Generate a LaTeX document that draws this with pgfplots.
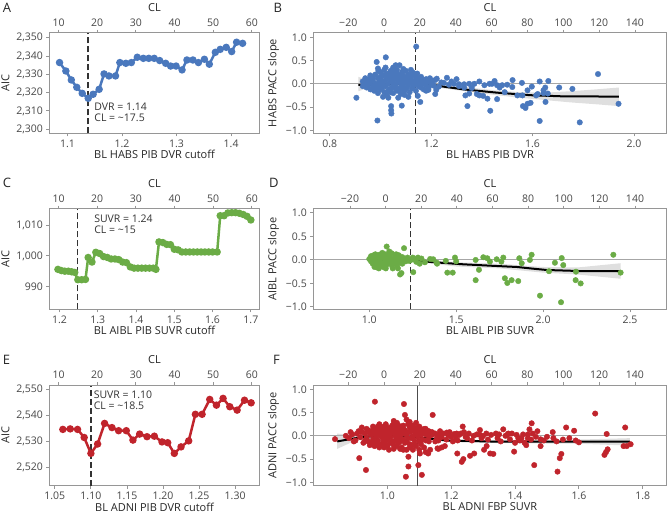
\documentclass[border=0pt]{standalone}
\usepackage{fontspec}
\setmainfont{Open Sans}
\usepackage{pgfplots}
\pgfplotsset{compat=1.18}
\definecolor{cblue}{RGB}{74,120,189}
\definecolor{cgreen}{RGB}{107,172,70}
\definecolor{cred}{RGB}{192,36,44}
\definecolor{framec}{RGB}{150,150,150}
\tikzset{ann/.style={anchor=west, inner sep=0pt, font=\fontsize{10.5}{12}\selectfont, text=black!80}}
\pgfplotsset{
  every tick label/.append style={font=\fontsize{10.5}{12}\selectfont, text=black!72},
  every axis label/.append style={font=\fontsize{11}{13}\selectfont, text=black!85},
  every x tick label/.append style={font=\fontsize{10.5}{12}\selectfont, text=black!72},
  /pgf/number format/assume math mode=true,
  panel/.style={scale only axis, anchor=south west,
    axis line style={draw=framec, line width=0.9pt},
    every tick/.style={draw=framec, line width=0.9pt},
    tick align=outside, major tick length=3pt,
    xtick pos=left, ytick pos=left,
    xlabel style={yshift=4pt}},
  topax/.style={scale only axis, anchor=south west,
    axis x line*=top, axis y line=none, ymin=0, ymax=1,
    axis line style={draw=framec, line width=0.9pt},
    every tick/.style={draw=framec, line width=0.9pt},
    tick align=outside, major tick length=3pt,
    xticklabel pos=right,
    xlabel={CL}},
  leftw/.style={width=210pt, height=100.6pt},
  rightw/.style={width=353.4pt, height=100.6pt},
  rline/.style={line width=2.5pt, mark=*, mark size=2.4pt, mark options={draw=none}},
  sc/.style={only marks, mark=*, mark size=2.75pt, mark options={draw=none}},
  bandf/.style={fill=gray!60, fill opacity=0.42, draw=none},
  smline/.style={black, line width=2pt},
  zerol/.style={framec!85, line width=0.9pt},
  vdash/.style={black!80, line width=1.3pt, dash pattern=on 6pt off 3pt},
  slopey/.style={ytick={-1,-0.5,0,0.5,1}, yticklabels={−1.0,−0.5,0.0,0.5,1.0}}
}
\begin{document}
\begin{tikzpicture}
\useasboundingbox (0,0) rectangle (669pt,516pt);
% ================= Panel A
\begin{axis}[panel, leftw, at={(49.5pt,382.7pt)},
  xmin=1.067, xmax=1.452, ymin=2297.8, ymax=2352.7,
  xtick={1.1,1.2,1.3,1.4}, xticklabels={1.1,1.2,1.3,1.4},
  ytick={2300,2310,2320,2330,2340,2350},
  yticklabels={{2,300},{2,310},{2,320},{2,330},{2,340},{2,350}},
  xlabel={BL HABS PIB DVR cutoff}, ylabel={AIC}]
\addplot[vdash] coordinates {(1.1377,2297.8) (1.1377,2352.7)};
\addplot[rline, cblue] coordinates {(1.0854,2336.4)(1.097,2331.8)(1.107,2326.9)(1.117,2322.9)(1.127,2319.6)(1.138,2316.9)(1.147,2319.1)(1.158,2321.8)(1.167,2330.2)(1.176,2329.1)(1.188,2329.1)(1.196,2336.4)(1.207,2336.0)(1.217,2336.4)(1.228,2339.3)(1.239,2338.7)(1.249,2338.7)(1.259,2338.7)(1.269,2337.5)(1.280,2336.0)(1.289,2334.5)(1.299,2334.5)(1.310,2332.4)(1.319,2337.8)(1.330,2337.8)(1.340,2336.4)(1.351,2338.2)(1.360,2335.5)(1.371,2342.0)(1.380,2343.6)(1.391,2344.7)(1.401,2342.4)(1.410,2347.5)(1.421,2346.9)};
\node[ann] at (axis cs:1.149,2312) {DVR = 1.14};
\node[ann] at (axis cs:1.149,2306.4) {CL = \textasciitilde17.5};
\end{axis}
\begin{axis}[topax, leftw, at={(49.5pt,382.7pt)}, xmin=7.67, xmax=61.98, xtick={10,20,30,40,50,60}, xticklabels={10,20,30,40,50,60}]
\end{axis}
% ================= Panel B
\begin{axis}[panel, rightw, slopey, at={(313.3pt,382.7pt)},
  xmin=0.735, xmax=2.129, ymin=-1.065, ymax=1.10,
  xtick={0.8,1.2,1.6,2.0}, xticklabels={0.8,1.2,1.6,2.0},
  xlabel={BL HABS PIB DVR}, ylabel={HABS PACC slope}]
\addplot[zerol] coordinates {(0.735,0) (2.129,0)};
\addplot[sc, cblue] coordinates {
(0.905,-0.30)(0.988,-0.79)(0.985,0.47)(1.021,0.57)(1.075,0.40)(0.992,0.28)(1.141,0.80)(1.042,-0.48)(1.042,-0.57)(1.043,-0.64)(1.084,-0.47)(1.157,-0.39)(1.031,-0.30)(1.095,-0.24)(1.147,-0.26)(1.13,0.23)(1.216,-0.22)(1.189,-0.13)(1.222,0.11)(1.262,0.13)(1.300,0.10)(1.343,-0.48)(1.433,-0.58)(1.858,0.21)(1.939,-0.43)(1.628,-0.80)(1.786,-0.83)(1.562,-0.48)(1.572,-0.52)(1.58,-0.43)(1.592,-0.41)(1.651,-0.39)(1.521,0.08)(1.558,0.02)(1.628,0.05)(1.662,0.06)(1.705,-0.08)(1.757,-0.11)(1.597,-0.06)(1.65,-0.08)(1.643,-0.14)(1.643,-0.20)(1.614,-0.25)
(1.25,0.02)(1.27,-0.02)(1.29,0.00)(1.31,-0.01)(1.33,-0.01)(1.35,0.00)(1.37,0.00)(1.39,0.05)(1.41,-0.03)(1.43,0.00)(1.44,0.00)(1.46,-0.03)(1.48,-0.03)(1.50,-0.02)(1.335,-0.25)(1.35,-0.21)(1.38,-0.22)(1.39,-0.25)(1.405,-0.26)(1.422,-0.32)(1.46,-0.33)(1.49,-0.18)(1.52,-0.07)(1.54,-0.25)(1.56,-0.25)(1.58,-0.14)(1.62,-0.22)(1.66,-0.21)(1.31,-0.05)(1.33,-0.08)(1.36,-0.09)(1.28,0.05)(1.24,0.03)(1.23,-0.06)(1.22,-0.13)(1.45,0.06)(1.47,-0.08)
(0.93,0.05)(0.93,-0.05)(0.94,0.12)(0.94,0.0)(0.945,-0.08)(0.95,0.05)(0.95,-0.03)(0.955,0.10)(0.96,-0.12)(0.96,0.02)(0.965,0.15)(0.97,-0.05)(0.97,0.08)(0.975,-0.15)(0.98,0.0)(0.98,0.20)(0.985,-0.08)(0.99,0.12)(0.99,-0.20)(0.995,0.05)(1.0,0.25)(1.0,-0.02)(1.0,0.10)(1.005,-0.10)(1.01,0.18)(1.01,0.02)(1.015,-0.18)(1.015,0.30)(1.02,0.08)(1.02,-0.05)(1.025,0.15)(1.025,-0.25)(1.03,0.22)(1.03,0.0)(1.035,-0.12)(1.035,0.12)(1.04,0.28)(1.04,0.05)(1.045,-0.08)(1.045,0.18)(1.05,-0.20)(1.05,0.02)(1.055,0.25)(1.055,0.10)(1.06,-0.02)(1.06,0.15)(1.065,-0.15)(1.065,0.30)(1.07,0.05)(1.07,0.20)(1.075,-0.10)(1.075,0.12)(1.08,-0.22)(1.08,0.0)(1.085,0.25)(1.085,0.08)(1.09,-0.05)(1.09,0.18)(1.095,0.02)(1.095,-0.15)(1.10,0.12)(1.10,0.28)(1.105,-0.08)(1.105,0.05)(1.11,0.20)(1.11,-0.02)(1.115,0.10)(1.115,-0.18)(1.12,0.02)(1.12,0.15)(1.125,-0.10)(1.125,0.25)(1.13,0.05)(1.13,-0.05)(1.135,0.18)(1.135,0.0)(1.14,0.10)(1.14,-0.15)(1.145,0.22)(1.145,0.02)(1.15,-0.05)(1.15,0.12)(1.155,0.05)(1.16,-0.08)(1.16,0.15)(1.165,0.0)(1.17,0.08)(1.17,-0.12)(1.175,0.03)(1.18,0.10)(1.18,-0.03)(1.19,0.05)(1.19,-0.08)(1.195,0.12)(1.20,0.0)(1.205,0.06)(1.21,-0.04)(1.215,0.08)
(0.97,0.12)(1.0,-0.12)(1.03,-0.15)(1.06,-0.10)(1.08,0.15)(1.02,0.35)(1.05,0.35)(1.09,0.32)(1.12,0.30)(0.99,0.33)(1.06,0.40)(1.11,-0.28)(1.07,-0.30)(1.01,-0.28)
(0.94,0.05)(0.96,0.18)(0.98,-0.12)(1.0,0.05)(1.02,0.20)(1.04,-0.18)(1.06,0.22)(1.08,0.05)(1.10,-0.10)(1.12,0.10)(1.14,0.05)(1.16,0.03)(1.18,-0.15)(1.0,0.15)(1.04,0.12)(1.08,-0.12)};
\addplot[vdash] coordinates {(1.137,-1.065) (1.137,1.10)};
\addplot[bandf] coordinates {(0.913,0.15)(0.96,0.05)(1.05,0.03)(1.15,0.04)(1.25,-0.01)(1.35,-0.08)(1.45,-0.14)(1.55,-0.18)(1.65,-0.19)(1.75,-0.16)(1.85,-0.12)(1.94,-0.08)(1.94,-0.48)(1.85,-0.44)(1.75,-0.40)(1.65,-0.35)(1.55,-0.30)(1.45,-0.24)(1.35,-0.17)(1.25,-0.10)(1.15,-0.02)(1.05,-0.03)(0.96,-0.07)(0.913,-0.16)};
\addplot[smline] coordinates {(0.913,-0.025)(1.0,-0.01)(1.13,0.01)(1.2,-0.01)(1.235,-0.05)(1.328,-0.12)(1.459,-0.19)(1.59,-0.245)(1.72,-0.27)(1.94,-0.275)};
\end{axis}
\begin{axis}[topax, rightw, at={(313.3pt,382.7pt)}, xmin=-39.5, xmax=157.7,
  xtick={-20,0,20,40,60,80,100,120,140}, xticklabels={−20,0,20,40,60,80,100,120,140}]
\end{axis}
% ================= Panel C
\begin{axis}[panel, leftw, at={(49.5pt,206.7pt)},
  xmin=1.174, xmax=1.7226, ymin=982.5, ymax=1015.5,
  xtick={1.2,1.3,1.4,1.5,1.6,1.7}, xticklabels={1.2,1.3,1.4,1.5,1.6,1.7},
  ytick={990,1000,1010}, yticklabels={990,{1,000},{1,010}},
  xlabel={BL AIBL PIB SUVR cutoff}, ylabel={AIC}]
\addplot[vdash] coordinates {(1.247,982.5) (1.247,1015.5)};
\addplot[rline, cgreen] coordinates {(1.196,995.6)(1.205,995.2)(1.214,995.0)(1.223,995.0)(1.232,994.8)(1.240,994.6)(1.248,992.2)(1.258,992.2)(1.268,992.3)(1.275,999.5)(1.285,998.0)(1.295,1001.2)(1.305,1000.8)(1.315,999.8)(1.325,999.5)(1.335,999.0)(1.345,999.0)(1.355,998.8)(1.365,998.0)(1.375,997.8)(1.385,996.4)(1.395,996.0)(1.405,996.0)(1.415,996.0)(1.425,996.0)(1.435,996.0)(1.445,996.0)(1.452,995.6)(1.460,1004.6)(1.470,1004.4)(1.480,1003.8)(1.490,1003.7)(1.500,1002.2)(1.510,1002.0)(1.520,1001.3)(1.530,1001.3)(1.540,1001.3)(1.550,1001.3)(1.560,1001.3)(1.570,1001.3)(1.580,1001.3)(1.590,1001.3)(1.600,1001.3)(1.612,1001.3)(1.620,1013.2)(1.630,1013.2)(1.640,1014.1)(1.650,1014.2)(1.660,1014.2)(1.670,1014.0)(1.680,1013.6)(1.690,1013.0)(1.700,1011.8)};
\node[ann] at (axis cs:1.2906,1012.2) {SUVR = 1.24};
\node[ann] at (axis cs:1.2906,1008.5) {CL = \textasciitilde15};
\end{axis}
\begin{axis}[topax, leftw, at={(49.5pt,206.7pt)}, xmin=7.67, xmax=61.98, xtick={10,20,30,40,50,60}, xticklabels={10,20,30,40,50,60}]
\end{axis}
% ================= Panel D
\begin{axis}[panel, rightw, slopey, at={(313.3pt,206.7pt)},
  xmin=0.678, xmax=2.711, ymin=-1.05, ymax=1.09,
  xtick={1.0,1.5,2.0,2.5}, xticklabels={1.0,1.5,2.0,2.5},
  xlabel={BL AIBL PIB SUVR}, ylabel={AIBL PACC slope}]
\addplot[zerol] coordinates {(0.678,0) (2.711,0)};
\addplot[sc, cgreen] coordinates {
(1.00,0.02)(1.01,-0.03)(1.02,0.05)(1.02,-0.08)(1.03,0.0)(1.03,-0.15)(1.04,0.06)(1.04,-0.05)(1.05,0.10)(1.05,-0.12)(1.06,0.02)(1.06,-0.02)(1.07,0.08)(1.07,-0.08)(1.08,0.04)(1.08,-0.15)(1.09,0.12)(1.09,-0.03)(1.10,0.285)(1.10,0.05)(1.10,-0.10)(1.11,0.0)(1.11,0.10)(1.12,-0.05)(1.12,0.06)(1.13,-0.12)(1.13,0.14)(1.14,0.02)(1.14,-0.07)(1.15,0.08)(1.15,-0.02)(1.16,-0.12)(1.16,0.04)(1.17,0.10)(1.17,-0.05)(1.177,-0.31)(1.185,-0.28)(1.18,0.0)(1.19,0.06)(1.19,-0.08)(1.20,0.25)(1.20,0.02)(1.21,-0.03)(1.22,0.05)(1.23,-0.02)(1.24,0.0)(1.01,0.08)(1.035,0.12)(1.055,-0.18)(1.075,0.15)(1.095,-0.18)(1.115,0.18)(1.135,-0.18)(1.155,0.12)(1.165,-0.18)(1.045,-0.16)(1.025,0.10)(1.065,0.12)(1.085,0.08)
(1.253,-0.26)(1.25,0.05)(1.26,0.02)(1.27,-0.04)(1.28,0.05)(1.29,-0.08)(1.30,0.03)(1.32,-0.05)(1.35,0.02)(1.368,0.014)(1.387,-0.057)(1.39,-0.08)(1.44,-0.02)(1.449,-0.27)(1.48,-0.27)(1.493,0.05)(1.50,-0.03)(1.612,0.0)(1.612,-0.43)(1.631,-0.21)(1.656,0.057)(1.679,0.036)(1.694,-0.036)(1.733,0.014)(1.771,0.05)(1.76,-0.036)(1.78,-0.39)(1.794,-0.49)(1.819,-0.43)(1.857,-0.45)(1.863,0.036)(1.877,-0.07)(1.924,0.0)(1.934,0.11)(1.982,-0.76)(2.034,-0.24)(2.068,-0.06)(2.107,0.04)(2.116,-0.11)(2.103,-0.90)(2.189,-0.25)(2.187,-0.43)(2.216,-0.50)(2.404,0.11)(2.446,-0.27)};
\addplot[vdash] coordinates {(1.238,-1.05) (1.238,1.09)};
\addplot[bandf] coordinates {(1.0,0.04)(1.1,0.03)(1.25,0.03)(1.5,-0.05)(1.75,-0.08)(2.0,-0.15)(2.2,-0.16)(2.446,-0.07)(2.446,-0.40)(2.2,-0.31)(2.0,-0.27)(1.75,-0.18)(1.5,-0.14)(1.25,-0.03)(1.1,-0.02)(1.0,-0.05)};
\addplot[smline] coordinates {(1.0,0.0)(1.1,0.005)(1.234,0.0)(1.3,-0.02)(1.349,-0.043)(1.541,-0.093)(1.733,-0.129)(1.85,-0.15)(1.924,-0.179)(2.02,-0.214)(2.21,-0.236)(2.446,-0.236)};
\end{axis}
\begin{axis}[topax, rightw, at={(313.3pt,206.7pt)}, xmin=-40.6, xmax=157.8,
  xtick={-20,0,20,40,60,80,100,120,140}, xticklabels={−20,0,20,40,60,80,100,120,140}]
\end{axis}
% ================= Panel E
\begin{axis}[panel, leftw, at={(49.5pt,30.3pt)},
  xmin=1.0426, xmax=1.3338, ymin=2513.1, ymax=2551.7,
  xtick={1.05,1.10,1.15,1.20,1.25,1.30}, xticklabels={1.05,1.10,1.15,1.20,1.25,1.30},
  ytick={2520,2530,2540,2550}, yticklabels={{2,520},{2,530},{2,540},{2,550}},
  xlabel={BL ADNI PIB DVR cutoff}, ylabel={AIC}]
\addplot[vdash] coordinates {(1.10,2513.1) (1.10,2551.7)};
\addplot[rline, cred] coordinates {(1.0611,2534.7)(1.0713,2534.9)(1.0815,2534.7)(1.0907,2531.6)(1.1000,2525.5)(1.1093,2529.1)(1.1190,2537.0)(1.1292,2535.4)(1.1384,2534.2)(1.1491,2534.2)(1.1583,2530.6)(1.1676,2532.9)(1.1778,2531.9)(1.1880,2532.1)(1.1986,2529.9)(1.2065,2529.6)(1.2157,2525.5)(1.2250,2528.0)(1.2356,2530.3)(1.2449,2540.5)(1.2542,2540.5)(1.2648,2546.2)(1.2741,2544.0)(1.2833,2546.6)(1.2926,2543.4)(1.3028,2542.1)(1.3130,2545.9)(1.3222,2544.9)};
\node[ann] at (axis cs:1.1037,2547.8) {SUVR = 1.10};
\node[ann] at (axis cs:1.1037,2543.6) {CL = \textasciitilde18.5};
\end{axis}
\begin{axis}[topax, leftw, at={(49.5pt,30.3pt)}, xmin=7.67, xmax=61.98, xtick={10,20,30,40,50,60}, xticklabels={10,20,30,40,50,60}]
\end{axis}
% ================= Panel F
\begin{axis}[panel, rightw, slopey, at={(313.3pt,30.3pt)},
  xmin=0.768, xmax=1.875, ymin=-1.073, ymax=1.092,
  xtick={1.0,1.2,1.4,1.6,1.8}, xticklabels={1.0,1.2,1.4,1.6,1.8},
  xlabel={BL ADNI FBP SUVR}, ylabel={ADNI PACC slope}]
\addplot[zerol] coordinates {(0.768,0) (1.875,0)};
\addplot[sc, cred] coordinates {
(0.836,-0.07)(0.87,0.0)(0.88,-0.05)(0.89,0.03)(0.90,-0.10)(0.912,-0.48)(0.91,0.10)(0.92,0.18)(0.925,-0.15)(0.93,0.05)(0.933,-0.735)(0.935,-0.05)(0.94,0.12)(0.945,-0.20)(0.95,0.02)
(0.95,0.10)(0.955,-0.08)(0.96,0.15)(0.96,-0.15)(0.961,0.735)(0.965,0.05)(0.965,-0.02)(0.97,0.20)(0.97,-0.10)(0.975,0.08)(0.975,-0.25)(0.98,0.0)(0.98,0.12)(0.985,-0.05)(0.985,0.18)(0.99,-0.12)(0.99,0.05)(0.995,0.25)(0.995,-0.18)(1.0,0.02)(1.0,0.10)(1.0,-0.08)(1.005,0.15)(1.005,-0.30)(1.01,0.05)(1.01,-0.02)(1.015,0.22)(1.015,-0.12)(1.02,0.08)(1.02,-0.20)(1.025,0.0)(1.025,0.15)(1.03,-0.06)(1.03,0.28)(1.035,0.05)(1.035,-0.15)(1.04,0.12)(1.04,-0.02)(1.045,0.20)(1.045,-0.25)(1.05,0.05)(1.05,-0.08)(1.052,0.685)(1.055,0.45)(1.055,0.12)(1.06,-0.12)(1.06,0.02)(1.065,0.25)(1.066,-0.45)(1.066,-0.66)(1.058,-0.88)(1.07,0.08)(1.07,-0.18)(1.075,0.15)(1.075,-0.05)(1.08,0.0)(1.08,0.22)(1.085,-0.10)(1.085,0.10)(1.09,0.05)(1.09,-0.22)(1.095,0.18)(1.095,-0.02)(1.10,0.08)(1.10,-0.12)(1.097,-0.63)(1.108,-0.84)(1.105,0.02)(1.11,-0.08)(1.11,0.12)(1.115,-0.25)(1.12,0.03)(1.12,-0.35)(1.125,0.05)(1.13,-0.02)
(0.97,0.03)(0.99,0.14)(1.01,0.16)(1.03,0.18)(1.05,0.22)(1.07,0.30)(1.09,0.28)(1.02,0.32)(1.06,0.35)(0.98,-0.20)(1.00,-0.22)(1.04,-0.28)(1.08,-0.30)(1.06,-0.30)(0.96,0.08)(0.94,-0.12)(1.10,-0.30)
(0.885,0.08)(0.895,-0.12)(0.905,0.05)(0.915,-0.03)(0.92,0.08)(0.93,-0.10)(0.935,0.15)(0.945,0.05)(0.95,-0.15)(0.955,0.20)(0.965,0.12)(0.97,-0.18)(0.975,0.25)(0.98,0.06)(0.985,-0.15)(0.99,0.20)(0.995,-0.05)(1.0,0.18)(1.005,0.05)(1.01,-0.15)(1.015,0.10)(1.02,0.25)(1.025,-0.10)(1.03,0.10)(1.035,0.22)(1.04,-0.12)(1.045,0.08)(1.05,0.15)(1.055,-0.15)(1.06,0.08)(1.065,-0.05)(1.07,0.18)(1.075,-0.22)(1.08,0.12)(1.085,-0.18)(1.09,0.15)(1.095,0.08)(1.10,0.20)(1.105,-0.18)(1.11,0.05)(1.115,0.15)(1.12,-0.10)(1.125,0.10)(1.13,-0.12)(0.99,-0.25)(1.03,-0.22)(1.07,-0.25)(0.96,-0.22)(1.02,-0.28)(1.05,-0.30)
(1.102,-0.38)(1.128,-0.38)(1.134,-0.30)(1.157,-0.27)(1.16,-0.10)(1.142,0.45)(1.15,0.05)(1.15,-0.12)(1.16,0.02)(1.17,-0.03)(1.186,0.07)(1.18,-0.22)(1.19,0.02)(1.20,-0.02)(1.21,0.04)(1.217,0.05)(1.219,-0.38)(1.22,-0.10)(1.23,0.05)(1.233,-0.56)(1.238,-0.50)(1.24,0.08)(1.236,0.20)(1.25,-0.05)(1.259,-0.43)(1.27,0.00)(1.272,-0.38)(1.29,0.125)(1.29,0.02)(1.30,0.00)(1.303,-0.30)(1.311,-0.22)(1.31,0.05)(1.322,-0.38)(1.332,-0.39)(1.34,0.05)(1.35,0.03)(1.363,0.14)(1.37,0.0)(1.379,0.05)(1.384,-0.075)(1.397,-0.34)(1.40,-0.15)(1.41,-0.05)(1.42,-0.05)(1.43,-0.15)(1.44,-0.05)(1.452,0.27)(1.445,0.14)(1.44,0.03)(1.45,-0.08)(1.46,-0.63)(1.48,-0.075)(1.48,-0.22)(1.518,0.08)(1.533,-0.77)(1.545,-0.39)(1.54,-0.48)(1.55,-0.08)(1.56,0.18)(1.585,0.11)(1.60,-0.14)(1.651,0.48)(1.687,0.04)(1.68,-0.41)(1.685,-0.35)(1.69,-0.29)(1.74,-0.22)(1.745,0.18)(1.75,-0.22)(1.762,-0.18)
(1.13,0.10)(1.14,0.08)(1.16,-0.28)(1.17,-0.25)(1.12,0.15)
(1.14,0.02)(1.155,-0.05)(1.165,0.10)(1.175,0.05)(1.185,-0.08)(1.195,0.08)(1.205,-0.12)(1.215,-0.05)(1.225,0.02)(1.245,-0.02)(1.255,0.05)(1.265,-0.10)(1.28,0.03)(1.295,-0.05)(1.315,-0.08)(1.325,0.02)(1.345,-0.05)(1.355,-0.12)(1.375,0.02)(1.39,0.05)(1.405,0.02)(1.415,-0.10)(1.425,0.03)(1.435,-0.20)(1.455,0.05)(1.465,-0.02)(1.47,0.10)(1.49,-0.10)(1.50,-0.02)(1.52,-0.05)(1.53,-0.12)(1.57,-0.05)(1.59,-0.10)};
\addplot[black!70, line width=1.1pt] coordinates {(1.093,-1.073) (1.093,1.092)};
\addplot[bandf] coordinates {(0.843,0.05)(0.9,0.0)(1.0,0.03)(1.1,0.0)(1.2,-0.08)(1.4,-0.09)(1.6,-0.08)(1.76,-0.05)(1.76,-0.21)(1.6,-0.17)(1.4,-0.16)(1.2,-0.14)(1.1,-0.06)(1.0,-0.02)(0.9,-0.10)(0.843,-0.28)};
\addplot[smline] coordinates {(0.843,-0.12)(0.925,-0.02)(1.003,0.004)(1.081,-0.018)(1.186,-0.10)(1.343,-0.125)(1.551,-0.125)(1.76,-0.125)};
\end{axis}
\begin{axis}[topax, rightw, at={(313.3pt,30.3pt)}, xmin=-39.5, xmax=157.7,
  xtick={-20,0,20,40,60,80,100,120,140}, xticklabels={−20,0,20,40,60,80,100,120,140}]
\end{axis}
% ================= panel letters
\begin{scope}[every node/.style={anchor=north west, inner sep=0pt, font=\fontsize{13}{15}\selectfont, text=black!85}]
\node at (2.7pt,512.7pt) {A};
\node at (273.5pt,512.7pt) {B};
\node at (2.7pt,337.7pt) {C};
\node at (269pt,337.7pt) {D};
\node at (2.7pt,161pt) {E};
\node at (273pt,161pt) {F};
\end{scope}
\end{tikzpicture}
\end{document}
